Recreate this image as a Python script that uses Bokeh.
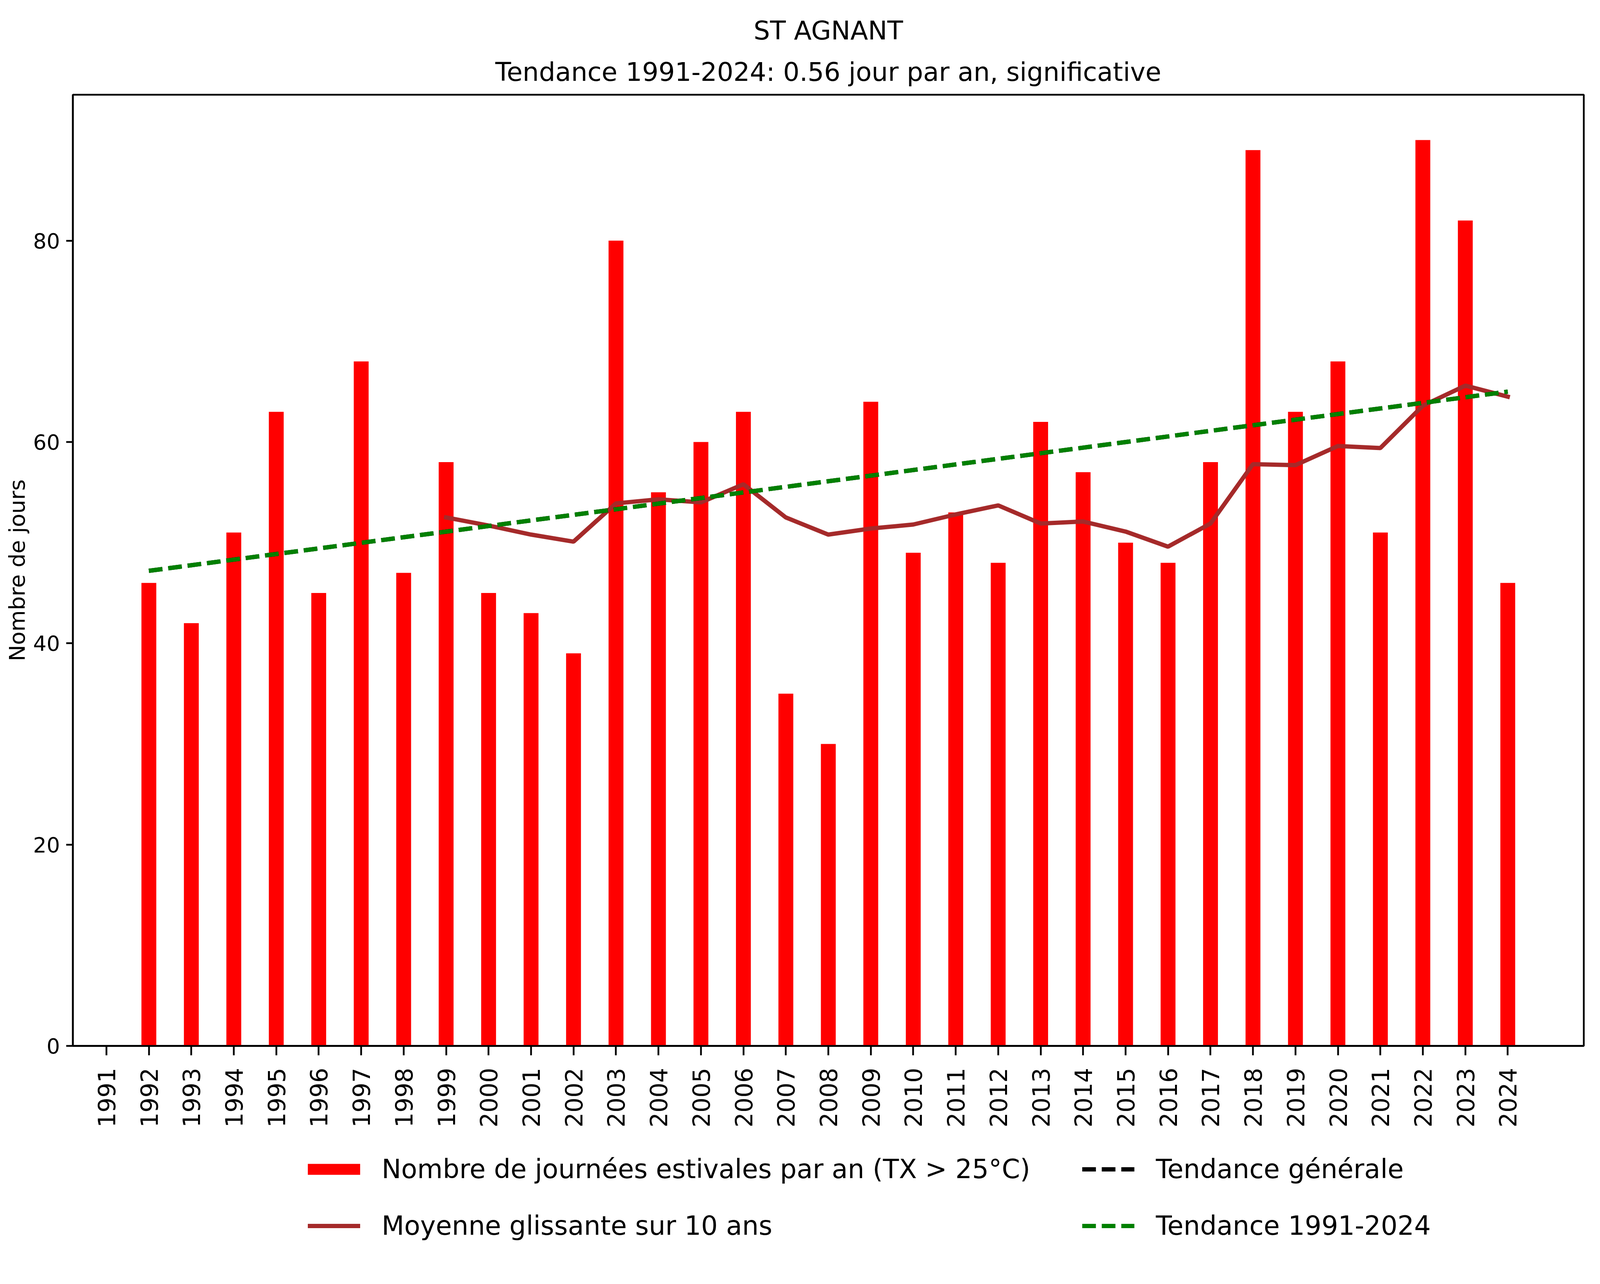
import math
from bokeh.plotting import figure
from bokeh.layouts import column
from bokeh.models import Legend, LegendItem, Title, FixedTicker, Range1d, ColumnDataSource
from bokeh.embed import file_html
from bokeh.resources import INLINE

# ---------------- data ----------------
years = list(range(1991, 2025))
summer_days = [0, 46, 42, 51, 63, 45, 68, 47, 58,
               45, 43, 39, 80, 55, 60, 63, 35, 30, 64,
               49, 53, 48, 62, 57, 50, 48, 58, 89, 63,
               68, 51, 90, 82, 46]

ma_years = list(range(1999, 2025))
ma_values = [52.5, 51.7, 50.8, 50.1, 53.9, 54.3, 54.0, 55.8, 52.5, 50.8,
             51.4, 51.8, 52.8, 53.7, 51.9, 52.1, 51.1, 49.6, 51.9, 57.8,
             57.7, 59.6, 59.4, 63.6, 65.6, 64.5]

trend_years = [1992, 2024]
trend_values = [47.2, 65.0]

y_ticks = [0, 20, 40, 60, 80]

title_line1 = "ST AGNANT"
title_line2 = "Tendance 1991-2024: 0.56 jour par an, significative"
ylabel = "Nombre de jours"
lbl_bars = "Nombre de journées estivales par an (TX > 25°C)"
lbl_ma = "Moyenne glissante sur 10 ans"
lbl_gen = "Tendance générale"
lbl_trend = "Tendance 1991-2024"

# ---------------- styles ----------------
FONT = "DejaVu Sans"
XTICK_FS = "60px"
YTICK_FS = "54px"
YLAB_FS = "56px"
TITLE_FS = "66px"
LEG_FS = "67px"
LW = 11
DASH = "35 15"
RED = "#ff0000"
BROWN = "#a52a2a"
GREEN = "#008000"

W = 4080
MAIN_H = 2922
LEG_H = 349

p = figure(width=W, height=MAIN_H, title=None,
           x_range=Range1d(1990.21, 2025.79), y_range=Range1d(0, 94.5),
           output_backend="svg", toolbar_location=None,
           min_border_left=186, min_border_right=26,
           min_border_top=242, min_border_bottom=245)
p.xgrid.visible = False
p.ygrid.visible = False
p.outline_line_color = "black"
p.outline_line_width = 4.5
p.background_fill_color = "white"
p.border_fill_color = "white"

src = ColumnDataSource(dict(x=years, top=summer_days))
p.vbar(x="x", top="top", width=0.35, bottom=0, source=src,
       fill_color=RED, line_color=None)

p.line(ma_years, ma_values, line_color=BROWN, line_width=LW, line_cap="square")
p.line(trend_years, trend_values, line_color="black", line_width=LW, line_dash=DASH)
p.line(trend_years, trend_values, line_color=GREEN, line_width=LW, line_dash=DASH)

for ax in (p.xaxis[0], p.yaxis[0]):
    ax.axis_line_width = 4.5
    ax.major_tick_line_width = 4.5
    ax.major_tick_in = 0
    ax.minor_tick_line_color = None
    ax.major_label_text_font = FONT
    ax.major_label_text_color = "black"

p.xaxis.major_label_text_font_size = XTICK_FS
p.yaxis.major_label_text_font_size = YTICK_FS
p.xaxis.major_tick_out = 24
p.xaxis.major_label_standoff = 32
p.yaxis.major_tick_out = 17
p.yaxis.major_label_standoff = 16

p.xaxis.ticker = FixedTicker(ticks=years)
p.xaxis.major_label_overrides = {y: str(y) for y in years}
p.xaxis.major_label_orientation = math.pi / 2
p.yaxis.ticker = FixedTicker(ticks=y_ticks)
p.yaxis.axis_label = ylabel
p.yaxis.axis_label_text_font = FONT
p.yaxis.axis_label_text_font_size = YLAB_FS
p.yaxis.axis_label_text_font_style = "normal"
p.yaxis.axis_label_text_color = "black"
p.yaxis.axis_label_standoff = 6

p.add_layout(Title(text=title_line2, align="center", text_font=FONT,
                   text_font_size=TITLE_FS, text_font_style="normal",
                   text_color="black", standoff=40), "above")
p.add_layout(Title(text=title_line1, align="center", text_font=FONT,
                   text_font_size=TITLE_FS, text_font_style="normal",
                   text_color="black", standoff=14), "above")

# ---------------- legend strip ----------------
lf = figure(width=W, height=LEG_H, x_range=Range1d(0, 1), y_range=Range1d(0, 1),
            output_backend="svg", toolbar_location=None, title=None,
            x_axis_location=None, y_axis_location=None, min_border=0)
lf.xgrid.visible = False
lf.ygrid.visible = False
lf.outline_line_color = None
lf.background_fill_color = "white"
lf.border_fill_color = "white"

nan = float("nan")
g_bar = lf.line([0.5], [nan], line_color=RED, line_width=28, line_cap="square")
g_ma = lf.line([0.5], [nan], line_color=BROWN, line_width=LW, line_cap="square")
g_gen = lf.line([0.5], [nan], line_color="black", line_width=LW, line_dash=DASH)
g_trend = lf.line([0.5], [nan], line_color=GREEN, line_width=LW, line_dash=DASH)

def make_legend(items, x, y):
    return Legend(items=items, location=(x, y), orientation="vertical",
                  glyph_width=134, glyph_height=100, label_height=100,
                  spacing=45, padding=0, margin=0, label_standoff=55,
                  label_text_font=FONT, label_text_font_size=LEG_FS,
                  label_text_color="black",
                  border_line_color=None, background_fill_alpha=0)

# location = bottom-left corner of each legend box, measured from the strip's bottom
lf.add_layout(make_legend([LegendItem(label=lbl_bars, renderers=[g_bar]),
                           LegendItem(label=lbl_ma, renderers=[g_ma])], 602, 83), "center")
lf.add_layout(make_legend([LegendItem(label=lbl_gen, renderers=[g_gen]),
                           LegendItem(label=lbl_trend, renderers=[g_trend])], 2584, 83), "center")

layout = column(p, lf, spacing=0)
open("out.html", "w").write(file_html(layout, INLINE))
